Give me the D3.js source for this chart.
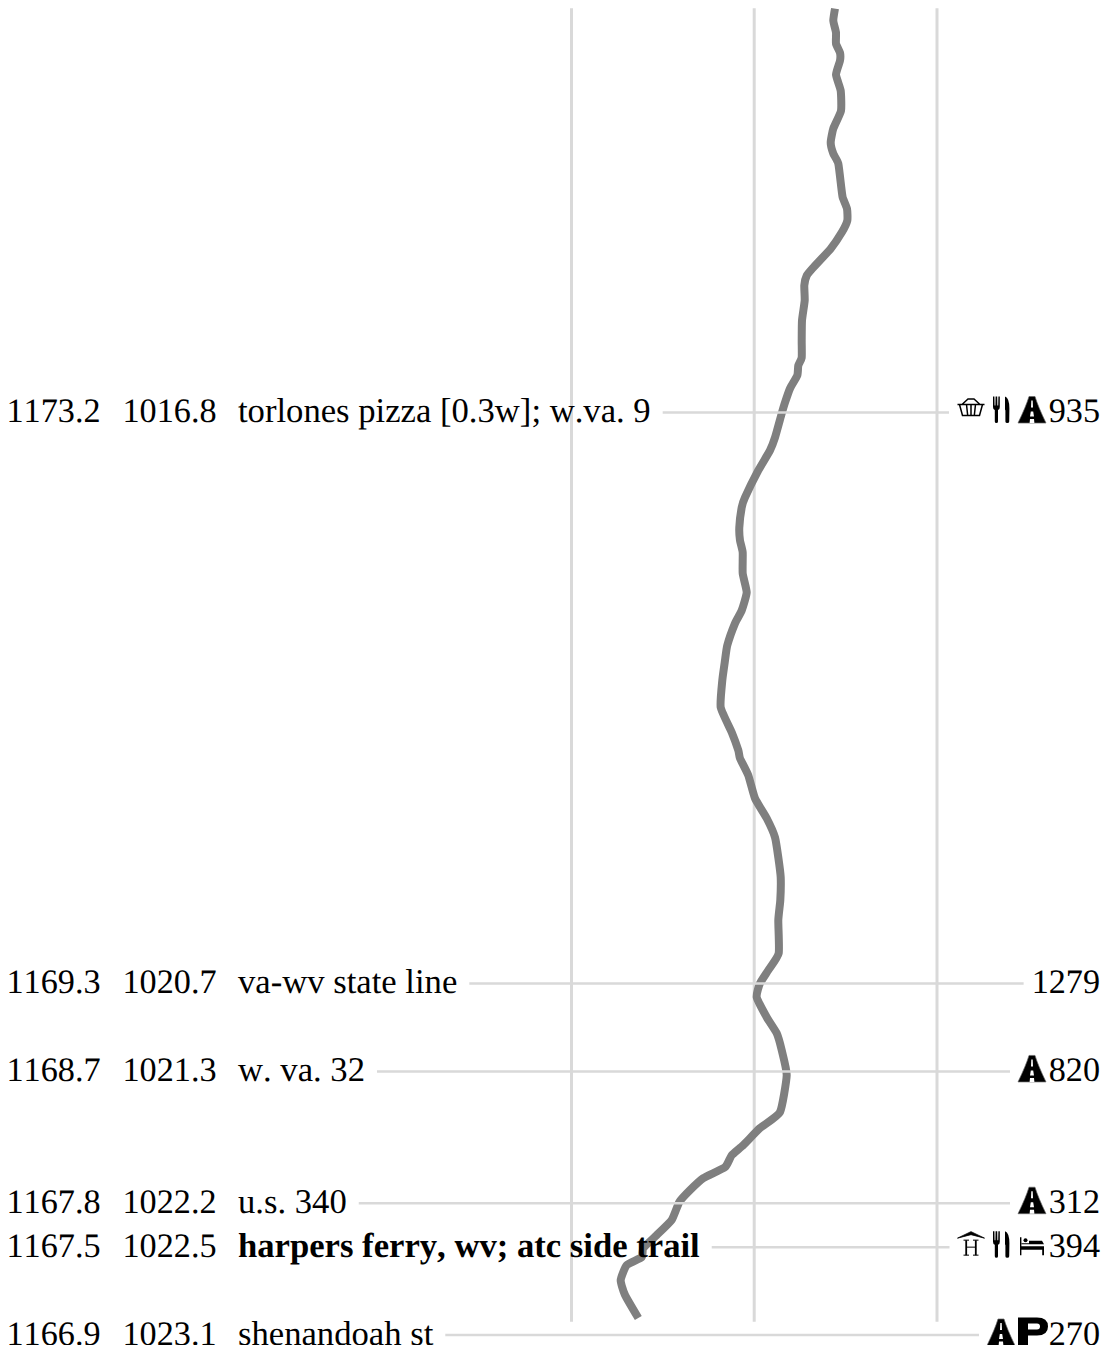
<!DOCTYPE html>
<html><head><meta charset="utf-8">
<script src="https://cdn.jsdelivr.net/npm/d3@7/dist/d3.min.js"></script>
<style>html,body{margin:0;padding:0;background:#fff;overflow:hidden}svg{display:block}text{font-family:"Liberation Serif",serif;font-size:34.2px;fill:#000;font-kerning:none;text-rendering:geometricPrecision}text.nm{font-size:34.65px}</style>
</head><body><svg id="c" width="1103" height="1345"></svg>
<script>
const sobo=["1173.2","1169.3","1168.7","1167.8","1167.5","1166.9"];
const nobo=[1016.8,1020.7,1021.3,1022.2,1022.5,1023.1];
const names=["torlones pizza [0.3w]; w.va. 9","va-wv state line","w. va. 32","u.s. 340","harpers ferry, wv; atc side trail","shenandoah st"];
const boldRows=[false,false,false,false,true,false];
const elevations=[935,1279,820,312,394,270];
const services=[["road","food","basket"],[],["road"],["road"],["bed","food","hostel"],["parking","road"]];
const gridTicks=[0,182.7,365.5];
const trailMile=[1014.042,1014.124,1014.206,1014.281,1014.343,1014.397,1014.493,1014.602,1014.739,1014.861,1014.957,1015.032,1015.1,1015.264,1015.332,1015.408,1015.489,1015.571,1015.681,1015.81,1015.865,1015.933,1016.035,1016.172,1016.309,1016.425,1016.479,1016.547,1016.636,1016.732,1016.807,1016.971,1017.059,1017.196,1017.38,1017.448,1017.585,1017.674,1017.756,1017.899,1018.029,1018.152,1018.24,1018.39,1018.493,1018.629,1018.814,1018.984,1019.107,1019.162,1019.278,1019.435,1019.571,1019.701,1019.838,1019.974,1020.131,1020.268,1020.493,1020.609,1020.698,1020.793,1020.93,1021.039,1021.155,1021.326,1021.578,1021.687,1021.803,1021.872,1021.954,1022.029,1022.111,1022.192,1022.315,1022.418,1022.506,1022.568,1022.623,1022.725,1022.827,1022.984];
const trailOffset=[263.5,261.8,264.5,264.5,268.5,268.5,264.5,269.2,269.5,261.8,259.2,261.8,266.8,269.8,271.2,275.5,275.8,270.2,259.2,241.8,235.2,232.8,233.2,230.5,230.2,230.2,226.8,225.8,218.5,213.5,210.2,203.5,198.5,186.8,173.5,170.2,167.8,168.5,171.2,171.2,175.2,170.2,163.5,155.8,153.5,150.8,149.2,160.2,166.8,168.5,176.8,183.5,195.2,203.5,206.8,209.2,208.8,206.8,207.2,196.8,188.5,185.2,195.2,205.2,210.2,215.2,208.5,188.5,171.8,160.2,153.5,131.8,118.5,107.8,100.2,85.2,71.8,70.2,55.2,49.2,53.5,66.8];
const gridSpan=[1014.04,1023.01];

const svg=d3.select("#c");
const x=d3.scaleLinear().domain([0,365.5]).range([571.5,937]);
const y=d3.scaleLinear().domain([1016.8,1023.1]).range([412.5,1335]);
const INK="#000";

svg.append("g").selectAll("line").data(gridTicks).join("line")
 .attr("x1",d=>x(d)).attr("x2",d=>x(d))
 .attr("y1",y(gridSpan[0])).attr("y2",y(gridSpan[1]))
 .attr("stroke","#d9d9d9").attr("stroke-width",3);

const pts=d3.zip(trailOffset,trailMile);
svg.append("path").datum(pts)
 .attr("d",d3.line().curve(d3.curveCardinal.tension(0.5)).x(d=>x(d[0])).y(d=>y(d[1])))
 .attr("fill","none").attr("stroke","#7f7f7f").attr("stroke-width",8).attr("stroke-linejoin","round");

const gLines=svg.append("g"), gText=svg.append("g"), gIcons=svg.append("g");
const slots=[1032,1001,971];
const halfW={road:14,food:8,basket:14,bed:12.5,hostel:13.5,parking:14.5};

const icons={
 road(g){
  g.append("path").attr("d","M-3,-16 L3,-16 Q6,-6 14,10.5 L-14,10.5 Q-6,-6 -3,-16 Z").attr("fill",INK).attr("stroke","#666").attr("stroke-width",0.7);
  g.append("path").attr("d","M-0.7,-12 L0.7,-12 L1,-5 L-1,-5 Z M-1.2,-1 L1.2,-1 L2,4 L-2,4 Z M-2,6.5 L2,6.5 L2.4,10.5 L-2.4,10.5 Z").attr("fill","#fff");
 },
 food(g){
  g.append("path").attr("d","M-8,-16 L-8,-5.5 Q-8,-3 -6.2,-2.5 L-6.2,9 Q-6.2,10.5 -4.6,10.5 Q-3,10.5 -3,9 L-3,-2.5 Q-1.2,-3 -1.2,-5.5 L-1.2,-16 L-2.6,-16 L-2.8,-7 L-3.6,-7 L-3.8,-16 L-5.4,-16 L-5.6,-7 L-6.4,-7 L-6.6,-16 Z").attr("fill",INK);
  g.append("path").attr("d","M4,-16 Q8.4,-14.5 8.4,-4 L8.2,9 Q8.2,10.5 6.3,10.5 Q4.4,10.5 4.4,9 L4.4,-2 L4,-3 Z").attr("fill",INK);
 },
 basket(g){
  g.append("path").attr("d","M-13.5,-8 L13.5,-8 M-11.5,-8 L-8.5,3 L8.5,3 L11.5,-8 M-4.5,-8 L-3.3,3 M0,-8 L0,3 M4.5,-8 L3.3,3 M-9,-8 L-3,-13.5 L3,-13.5 L9,-8").attr("fill","none").attr("stroke",INK).attr("stroke-width",1.5);
 },
 bed(g){
  g.append("path").attr("d","M-12,-10 L-10.6,-10 L-10.6,-1 L12,-1 L12,8 L10.2,8 L10.2,2.5 L-10.6,2.5 L-10.6,8 L-12,8 Z").attr("fill",INK);
  g.append("circle").attr("cx",-6.5).attr("cy",-7).attr("r",2).attr("fill",INK);
  g.append("path").attr("d","M-3,-6.5 L10,-6.5 L12,-3 L-10.6,-3 L-10.6,-4 L-3,-4 Z").attr("fill",INK);
 },
 hostel(g){
  g.append("path").attr("d","M-13.5,-9 L0,-15.5 L13.5,-9 L0,-12.5 Z").attr("fill",INK).attr("stroke",INK).attr("stroke-width",0.8).attr("stroke-linejoin","round");
  g.append("path").attr("d","M-4.8,-7 L-4.8,8 M4.8,-7 L4.8,8").attr("fill","none").attr("stroke",INK).attr("stroke-width",1.8);
  g.append("path").attr("d","M-4.8,0 L4.8,0 M-7.5,-7 L-2,-7 M2,-7 L7.5,-7 M-7.5,8 L-2,8 M2,8 L7.5,8").attr("fill","none").attr("stroke",INK).attr("stroke-width",1);
 },
 parking(g){
  g.append("path").attr("fill-rule","evenodd").attr("fill",INK)
   .attr("d","M-14,-17.5 L5,-17.5 Q16,-17.5 16,-8.5 Q16,0.5 5,0.5 L-4,0.5 L-4,10.5 L-14,10.5 Z M-4,-11.5 L-4,-5.5 L5,-5.5 Q8,-5.5 8,-8.5 Q8,-11.5 5,-11.5 Z");
 }
};

nobo.forEach((m,i)=>{
 const yy=y(m), base=yy+9.5;
 gText.append("text").attr("x",6.5).attr("y",base).text(sobo[i]);
 gText.append("text").attr("x",122.5).attr("y",base).text(m.toFixed(1));
 const nm=gText.append("text").attr("class","nm").attr("x",238).attr("y",base).attr("font-weight",boldRows[i]?"bold":null).text(names[i]);
 const el=gText.append("text").attr("x",1100).attr("y",base).attr("text-anchor","end").text(elevations[i]);
 let left=1100-el.node().getComputedTextLength();
 services[i].forEach((s,k)=>{
  const g=gIcons.append("g").attr("transform",`translate(${slots[k]},${yy})`);
  icons[s](g);
  left=slots[k]-halfW[s];
 });
 gLines.append("line").attr("x1",238+nm.node().getComputedTextLength()+12).attr("x2",left-8)
  .attr("y1",yy).attr("y2",yy).attr("stroke","#d9d9d9").attr("stroke-width",2.5);
});
</script></body></html>
